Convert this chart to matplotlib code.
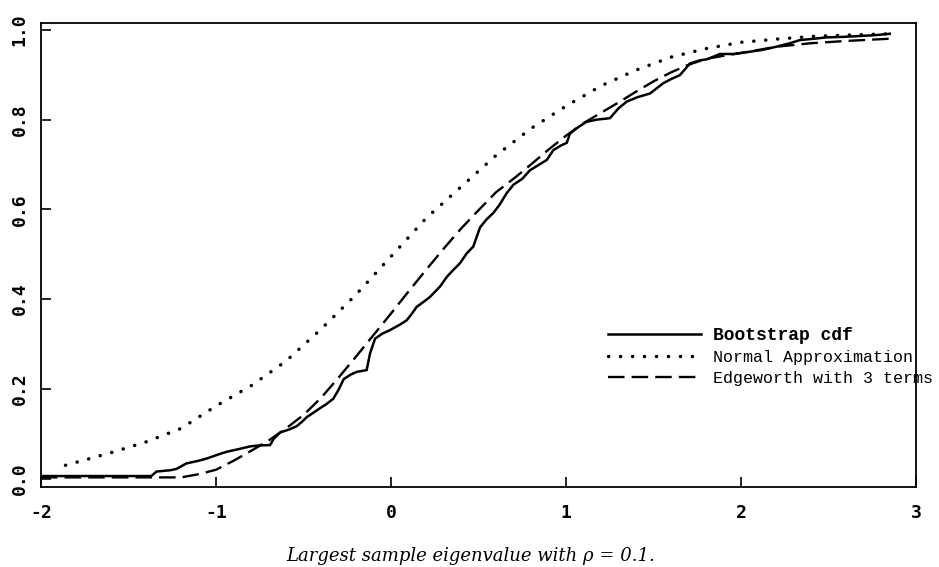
import matplotlib
matplotlib.use("Agg")
import matplotlib.pyplot as plt

# ---- data ----
boot_x = [-2.0, -1.37, -1.34, -1.26, -1.225, -1.17, -1.10, -1.053, -0.98, -0.939, -0.87, -0.806,
          -0.76, -0.691, -0.672, -0.634, -0.58, -0.539, -0.5, -0.482, -0.44, -0.406, -0.37, -0.33,
          -0.30, -0.27, -0.23, -0.196, -0.139, -0.12, -0.091, -0.05, -0.006, 0.05, 0.09, 0.12,
          0.147, 0.19, 0.223, 0.26, 0.28, 0.32, 0.356, 0.394, 0.433, 0.47, 0.509, 0.547, 0.585,
          0.62, 0.661, 0.70, 0.75, 0.794, 0.84, 0.89, 0.928, 0.97, 1.004, 1.023, 1.07, 1.118,
          1.18, 1.251, 1.30, 1.347, 1.41, 1.48, 1.556, 1.60, 1.651, 1.709, 1.766, 1.804, 1.88,
          1.956, 2.05, 2.12, 2.2, 2.28, 2.337, 2.42, 2.49, 2.58, 2.68, 2.77, 2.85]
boot_y = [0.006, 0.006, 0.016, 0.019, 0.022, 0.034, 0.040, 0.045, 0.055, 0.060, 0.066, 0.072,
          0.074, 0.075, 0.088, 0.103, 0.110, 0.117, 0.130, 0.137, 0.148, 0.157, 0.166, 0.178,
          0.198, 0.222, 0.232, 0.238, 0.242, 0.279, 0.312, 0.323, 0.331, 0.343, 0.353, 0.368,
          0.383, 0.395, 0.405, 0.420, 0.428, 0.450, 0.465, 0.480, 0.502, 0.517, 0.560, 0.578,
          0.592, 0.610, 0.636, 0.655, 0.668, 0.687, 0.698, 0.710, 0.732, 0.742, 0.748, 0.769,
          0.783, 0.795, 0.800, 0.803, 0.825, 0.840, 0.850, 0.858, 0.881, 0.890, 0.899, 0.925,
          0.932, 0.934, 0.946, 0.946, 0.951, 0.955, 0.962, 0.970, 0.977, 0.980, 0.983, 0.984,
          0.986, 0.988, 0.991]

norm_x = [-1.86, -1.6, -1.4, -1.2, -1.0, -0.8, -0.6, -0.4, -0.2, 0.0, 0.2, 0.4, 0.6, 0.8,
          1.0, 1.2, 1.4, 1.6, 1.8, 2.0, 2.2, 2.4, 2.6, 2.85]
norm_y = [0.030, 0.058, 0.082, 0.112, 0.162, 0.207, 0.262, 0.333, 0.410, 0.495, 0.580, 0.650,
          0.720, 0.780, 0.830, 0.875, 0.910, 0.939, 0.958, 0.972, 0.979, 0.985, 0.988, 0.991]

edge_x = [-2.0, -1.2, -1.1, -1.0, -0.9, -0.8, -0.7, -0.6, -0.5, -0.4, -0.3, -0.2, -0.1, 0.0,
          0.1, 0.2, 0.3, 0.4, 0.5, 0.6, 0.7, 0.8, 0.9, 1.0, 1.1, 1.2, 1.3, 1.4, 1.5, 1.6, 1.7,
          1.8, 1.9, 2.0, 2.2, 2.4, 2.6, 2.85]
edge_y = [0.003, 0.003, 0.010, 0.020, 0.040, 0.062, 0.085, 0.112, 0.142, 0.180, 0.225, 0.272,
          0.320, 0.368, 0.417, 0.465, 0.512, 0.557, 0.598, 0.638, 0.668, 0.700, 0.733, 0.764,
          0.792, 0.815, 0.838, 0.862, 0.885, 0.905, 0.922, 0.935, 0.942, 0.948, 0.962, 0.970,
          0.975, 0.980]

xticks = [-2, -1, 0, 1, 2, 3]
xtick_labels = ["-2", "-1", "0", "1", "2", "3"]
yticks = [0.0, 0.2, 0.4, 0.6, 0.8, 1.0]
ytick_labels = ["0.0", "0.2", "0.4", "0.6", "0.8", "1.0"]

labels = ["Bootstrap cdf", "Normal Approximation", "Edgeworth with 3 terms"]
caption = "Largest sample eigenvalue with \u03c1 = 0.1."

# ---- figure ----
fig = plt.figure(figsize=(9.39, 5.67), dpi=100)
ax = fig.add_axes([41/939, 80/567, 875/939, 464/567])

l1, = ax.plot(boot_x, boot_y, color="black", lw=1.8, solid_joinstyle="miter")
l2, = ax.plot(norm_x, norm_y, color="black", lw=2.5, linestyle=(0, (0.05, 3.4)),
              dash_capstyle="round")
l3, = ax.plot(edge_x, edge_y, color="black", lw=1.7, linestyle=(0, (7.0, 3.0)))

ax.set_xlim(-2, 3)
ax.set_ylim(-0.0184, 1.015)

ax.set_xticks(xticks)
ax.set_xticklabels(xtick_labels)
ax.set_yticks(yticks)
ax.set_yticklabels(ytick_labels, rotation=90, va="center")
ax.tick_params(axis="both", direction="in", length=7, width=1.2,
               top=False, right=False)
ax.tick_params(axis="x", pad=12)
ax.tick_params(axis="y", pad=9)
for lab in ax.get_xticklabels() + ax.get_yticklabels():
    lab.set_fontfamily("DejaVu Sans Mono")
    lab.set_fontweight("bold")
    lab.set_fontsize(13)

for s in ax.spines.values():
    s.set_linewidth(1.3)
    s.set_color("black")

leg = ax.legend([l1, l2, l3], labels, loc="upper left",
                bbox_to_anchor=((608 - 41) / 875, (487 - 327) / 464),
                frameon=False, borderpad=0, borderaxespad=0,
                handlelength=5.6, handletextpad=0.72, labelspacing=0.36,
                prop={"family": "Liberation Mono", "size": 12.0})
texts = leg.get_texts()
texts[0].set_fontweight("bold")
texts[0].set_fontsize(13)

fig.text(471 / 939, 6 / 567, caption, ha="center", va="baseline",
         fontfamily="DejaVu Serif", fontstyle="italic", fontsize=13)

fig.savefig("out.png", dpi=100)
